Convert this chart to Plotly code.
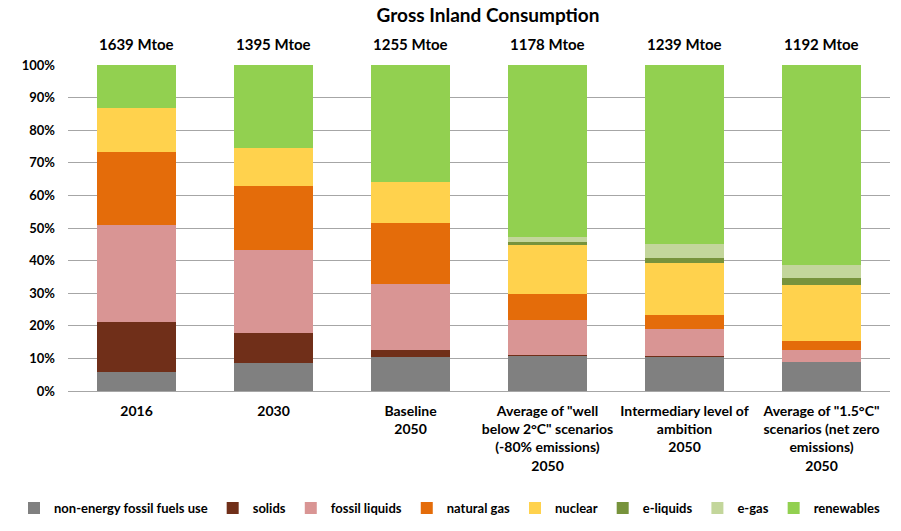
import plotly.graph_objects as go

categories = [
    "2016",
    "2030",
    "Baseline<br>2050",
    "Average of \"well<br>below 2°C\" scenarios<br>(-80% emissions)<br>2050",
    "Intermediary level of<br>ambition<br>2050",
    "Average of \"1.5°C\"<br>scenarios (net zero<br>emissions)<br>2050",
]
totals = ["1639 Mtoe", "1395 Mtoe", "1255 Mtoe", "1178 Mtoe", "1239 Mtoe", "1192 Mtoe"]

non_energy = [5.7, 8.6, 10.4, 10.9, 10.6, 8.9]
solids = [15.5, 9.2, 2.1, 0.2, 0.2, 0.1]
fossil_liquids = [29.7, 25.4, 20.3, 10.7, 8.2, 3.6]
natural_gas = [22.4, 19.7, 18.7, 8.0, 4.3, 2.8]
nuclear = [13.5, 11.6, 12.6, 14.9, 16.0, 17.0]
e_liquids = [0.0, 0.0, 0.0, 0.9, 1.5, 2.4]
e_gas = [0.0, 0.0, 0.0, 1.7, 4.3, 3.9]
renewables = [13.2, 25.5, 35.9, 52.7, 54.9, 61.3]

series = [
    ("non-energy fossil fuels use", non_energy, "#808080"),
    ("solids", solids, "#702F19"),
    ("fossil liquids", fossil_liquids, "#D99594"),
    ("natural gas", natural_gas, "#E46C0A"),
    ("nuclear", nuclear, "#FFD24D"),
    ("e-liquids", e_liquids, "#77933C"),
    ("e-gas", e_gas, "#C3D69B"),
    ("renewables", renewables, "#92D050"),
]

FONT = "Lato"
fig = go.Figure()
for name, vals, col in series:
    fig.add_trace(go.Bar(name=name, x=categories, y=vals, marker=dict(color=col, line=dict(width=0)),
                         hoverinfo="skip"))

for i, t in enumerate(totals):
    fig.add_annotation(x=i, y=1.064, xref="x", yref="paper", text=t, showarrow=False,
                       yanchor="middle", font=dict(family=FONT, size=15, color="#000", weight=700))

fig.update_layout(
    width=901, height=531,
    barmode="stack", bargap=0.43,
    plot_bgcolor="white", paper_bgcolor="white",
    margin=dict(l=68, r=11, t=65, b=140, autoexpand=False),
    title=dict(text="Gross Inland Consumption", x=488/901, xanchor="center", y=1-15/531, yanchor="middle",
               yref="container", automargin=False,
               font=dict(family=FONT, size=19, color="#000", weight=700)),
    legend=dict(orientation="h", x=(14-68)/822, xanchor="left",
                y=-0.359, yanchor="middle",
                traceorder="normal", font=dict(family=FONT, size=13, color="#000", weight=700),
                itemwidth=30, tracegroupgap=0),
    xaxis=dict(type="category", automargin=False, tickfont=dict(family=FONT, size=14, color="#000", weight=700),
               showline=False, ticks="", ticklabelstandoff=10),
    yaxis=dict(range=[0, 100], dtick=10, ticksuffix="%", showgrid=True, gridcolor="#A6A6A6", gridwidth=1,
               automargin=False, zeroline=True, zerolinecolor="#A6A6A6", zerolinewidth=1,
               tickfont=dict(family=FONT, size=13, color="#000", weight=700), ticklabelstandoff=12),
)

fig.write_html("out.html", config={"displayModeBar": False},
               post_script="document.body.style.margin='0';")
